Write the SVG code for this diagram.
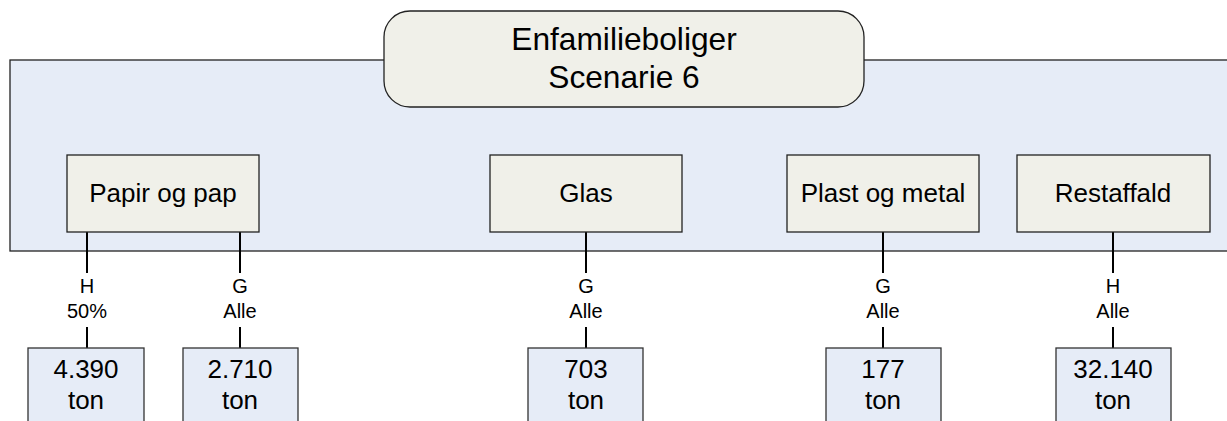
<svg xmlns="http://www.w3.org/2000/svg" width="1227" height="421" viewBox="0 0 1227 421">
<style>
text{font-family:"Liberation Sans",Arial,sans-serif;fill:#000;text-anchor:middle}
.cat{fill:#f0f0e9;stroke:#222;stroke-width:1.3}
.val{fill:#e6ecf7;stroke:#333;stroke-width:1.3}
.big{font-size:26px}
.lbl{font-size:20px}
.title{font-size:31.7px}
#connectors line{stroke:#000;stroke-width:2}
</style>
<rect id="container" x="10" y="60" width="1230" height="191" fill="#e6ecf7" stroke="#222" stroke-width="1.3"/>
<g id="title">
<rect x="384" y="11" width="480" height="96" rx="26" ry="26" class="cat"/>
<text class="title" x="624" y="50">Enfamilieboliger</text>
<text class="title" x="624" y="88">Scenarie 6</text>
</g>
<g id="connectors">
<line x1="87" y1="232" x2="87" y2="273"/><line x1="87" y1="327" x2="87" y2="348"/>
<line x1="240" y1="232" x2="240" y2="273"/><line x1="240" y1="327" x2="240" y2="348"/>
<line x1="586" y1="232" x2="586" y2="273"/><line x1="586" y1="327" x2="586" y2="348"/>
<line x1="883" y1="232" x2="883" y2="273"/><line x1="883" y1="327" x2="883" y2="348"/>
<line x1="1113" y1="232" x2="1113" y2="273"/><line x1="1113" y1="327" x2="1113" y2="348"/>
<text class="lbl" x="87" y="293">H</text><text class="lbl" x="87" y="318">50%</text>
<text class="lbl" x="240" y="293">G</text><text class="lbl" x="240" y="318">Alle</text>
<text class="lbl" x="586" y="293">G</text><text class="lbl" x="586" y="318">Alle</text>
<text class="lbl" x="883" y="293">G</text><text class="lbl" x="883" y="318">Alle</text>
<text class="lbl" x="1113" y="293">H</text><text class="lbl" x="1113" y="318">Alle</text>
</g>
<g id="papir"><rect class="cat" x="67" y="155" width="192" height="77"/><text class="big" x="163" y="202">Papir og pap</text></g>
<g id="glas"><rect class="cat" x="490" y="155" width="192" height="77"/><text class="big" x="586" y="202">Glas</text></g>
<g id="plast"><rect class="cat" x="787" y="155" width="192" height="77"/><text class="big" x="883" y="202">Plast og metal</text></g>
<g id="rest"><rect class="cat" x="1017" y="155" width="193" height="77"/><text class="big" x="1113" y="202">Restaffald</text></g>
<g id="v1"><rect class="val" x="28" y="348" width="116" height="80"/><text class="big" x="86" y="378">4.390</text><text class="big" x="86" y="409">ton</text></g>
<g id="v2"><rect class="val" x="183" y="348" width="115" height="80"/><text class="big" x="240" y="378">2.710</text><text class="big" x="240" y="409">ton</text></g>
<g id="v3"><rect class="val" x="528" y="348" width="115" height="80"/><text class="big" x="586" y="378">703</text><text class="big" x="586" y="409">ton</text></g>
<g id="v4"><rect class="val" x="826" y="348" width="115" height="80"/><text class="big" x="883" y="378">177</text><text class="big" x="883" y="409">ton</text></g>
<g id="v5"><rect class="val" x="1056" y="348" width="115" height="80"/><text class="big" x="1113" y="378">32.140</text><text class="big" x="1113" y="409">ton</text></g>
</svg>
